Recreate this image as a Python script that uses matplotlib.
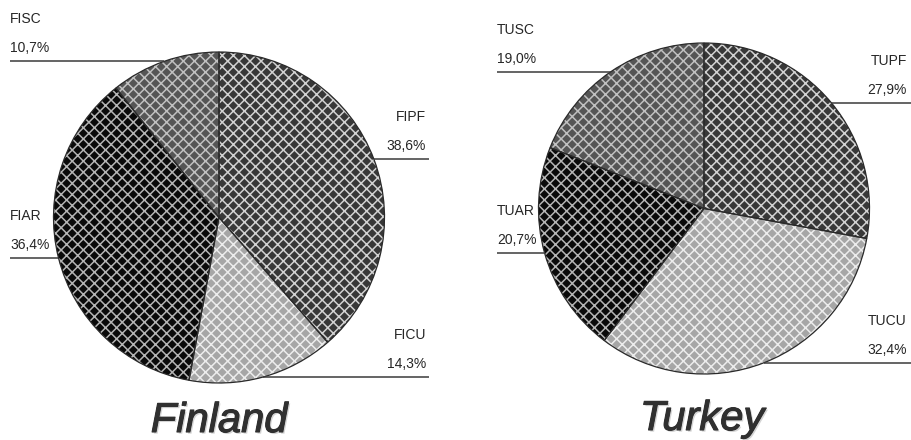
import matplotlib
matplotlib.use("Agg")
import matplotlib.pyplot as plt
import matplotlib.patheffects as pe
import numpy as np

# ---------------- data ----------------
countries = ["Finland", "Turkey"]
fi_labels = ["FIPF", "FICU", "FIAR", "FISC"]
fi_values = [38.6, 14.3, 36.4, 10.7]
tu_labels = ["TUPF", "TUCU", "TUAR", "TUSC"]
tu_values = [27.9, 32.4, 20.7, 19.0]

# ---------------- style ----------------
face_colors = ["#383838", "#a6a6a6", "#0a0a0a", "#555555"]
hatch_colors = ["#d2d2d2", "#ececec", "#b4b4b4", "#c0c0c0"]

W, H = 912, 440
plt.rcParams["hatch.linewidth"] = 1.1

fig = plt.figure(figsize=(W / 100, H / 100), dpi=100)
ax = fig.add_axes([0, 0, 1, 1])

layouts = [
    dict(cx=219, cy=217.5, r=165.5, lx=10, rx=426, rend=429, title_x=219, title_y=432),
    dict(cx=704, cy=208.5, r=165.5, lx=497, rx=907, rend=912, title_x=702, title_y=430),
]

datasets = [(fi_labels, fi_values), (tu_labels, tu_values)]

for (labels, values), lay, country in zip(datasets, layouts, countries):
    cx, cy = lay["cx"], H - lay["cy"]
    r = lay["r"]
    wedges, _ = ax.pie(values, colors=face_colors, startangle=90, counterclock=False,
                       center=(cx, cy), radius=r, frame=True,
                       wedgeprops=dict(linewidth=0))
    for w, hc in zip(wedges, hatch_colors):
        w.set_edgecolor(hc)
        w.set_hatch("xxx")
        w.set_linewidth(0)
    ax.pie(values, colors=["none"] * len(values), startangle=90, counterclock=False,
           center=(cx, cy), radius=r, frame=True,
           wedgeprops=dict(linewidth=0.9, edgecolor="#2a2a2a", fill=False))

    # leader lines at wedge mid-angles
    total = float(sum(values))
    start = 90.0
    for lab, v in zip(labels, values):
        span = 360.0 * v / total
        mid = np.deg2rad(start - span / 2)
        start -= span
        px = cx + r * np.cos(mid)
        py = cy + r * np.sin(mid)
        pct = f"{v:.1f}%".replace(".", ",")
        if np.cos(mid) >= 0:
            ax.plot([px, lay["rend"]], [py, py], color="#3a3a3a", lw=1.1,
                    solid_capstyle="butt")
            tx, ha = lay["rx"], "right"
        else:
            ax.plot([lay["lx"], px], [py, py], color="#3a3a3a", lw=1.1,
                    solid_capstyle="butt")
            tx, ha = lay["lx"], "left"
        ax.text(tx, py + 13, pct, ha=ha, va="center",
                fontsize=10, family="Liberation Sans", color="#262626")
        ax.text(tx, py + 42, lab, ha=ha, va="center",
                fontsize=10, family="Liberation Sans", color="#262626")

    ax.text(lay["title_x"], H - lay["title_y"], country, ha="center", va="baseline",
            fontsize=30, style="italic", family="Liberation Sans", color="#303030",
            path_effects=[pe.withSimplePatchShadow(offset=(1.2, -1.2), shadow_rgbFace="#aaaaaa", alpha=0.5),
                          pe.Stroke(linewidth=0.8, foreground="#303030"), pe.Normal()])

ax.set_xlim(0, W)
ax.set_ylim(0, H)
ax.set_aspect("auto")
ax.axis("off")

fig.savefig("out.png", dpi=100, facecolor="white")
